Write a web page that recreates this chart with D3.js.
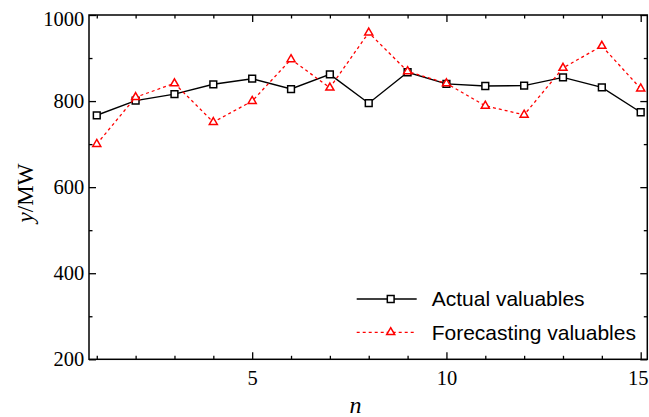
<!DOCTYPE html>
<html><head><meta charset="utf-8">
<script src="https://cdn.jsdelivr.net/npm/d3@7"></script>
<style>body{margin:0;background:#fff}svg{display:block}</style>
</head><body>
<svg id="c" width="649" height="417"></svg>
<script>
const nValues = [1,2,3,4,5,6,7,8,9,10,11,12,13,14,15];
const actualValues = [767,801,816,839,852,828,862,795,867,840,835,836,855,832,774];
const forecastValues = [700,809,841,751,800,897,831,959,869,841,789,768,877,928,829];
const xMajorTicks = [5,10,15];
const yMajorTicks = [200,400,600,800,1000];
const yMinorTicks = [300,500,700,900];
const seriesNames = ["Actual valuables","Forecasting valuables"];

const svg = d3.select("#c");
const x = d3.scaleLinear().domain([0.8,15.17]).range([89,647.3]);
const y = d3.scaleLinear().domain([200,1000]).range([359.3,15]);
const L = x.range()[0], R = x.range()[1], T = y.range()[1], B = y.range()[0];
const serif = "'Liberation Serif','Times New Roman',serif";
const sans = "'Liberation Sans',Arial,Helvetica,sans-serif";

function styleAxis(g){
  g.select(".domain").remove();
  g.selectAll(".tick line").attr("stroke","#000").attr("stroke-width",1.3);
  g.selectAll(".tick text").attr("font-family",serif).attr("font-size","20.5px").attr("fill","#000");
}
const xMinor = nValues.filter(v=>!xMajorTicks.includes(v));
// bottom
const gb = svg.append("g").attr("transform",`translate(0,${B})`)
  .call(d3.axisBottom(x).tickValues(xMajorTicks).tickSize(-7).tickPadding(11).tickFormat(d3.format("d"))).call(styleAxis);
gb.selectAll(".tick text").filter(d=>d===15).attr("dx","-3");
svg.append("g").attr("transform",`translate(0,${B})`)
  .call(d3.axisBottom(x).tickValues(xMinor).tickSize(-3.5).tickFormat("")).call(styleAxis);
// top
svg.append("g").attr("transform",`translate(0,${T})`)
  .call(d3.axisTop(x).tickValues(xMajorTicks).tickSize(-7).tickFormat("")).call(styleAxis);
svg.append("g").attr("transform",`translate(0,${T})`)
  .call(d3.axisTop(x).tickValues(xMinor).tickSize(-3.5).tickFormat("")).call(styleAxis);
// left
const gl = svg.append("g").attr("transform",`translate(${L},0)`)
  .call(d3.axisLeft(y).tickValues(yMajorTicks).tickSize(-7).tickPadding(4.7).tickFormat(d3.format("d"))).call(styleAxis);
gl.selectAll(".tick text").filter(d=>d===1000).attr("dy","0.52em");
svg.append("g").attr("transform",`translate(${L},0)`)
  .call(d3.axisLeft(y).tickValues(yMinorTicks).tickSize(-3.5).tickFormat("")).call(styleAxis);
// right
svg.append("g").attr("transform",`translate(${R},0)`)
  .call(d3.axisRight(y).tickValues(yMajorTicks).tickSize(-7).tickFormat("")).call(styleAxis);
svg.append("g").attr("transform",`translate(${R},0)`)
  .call(d3.axisRight(y).tickValues(yMinorTicks).tickSize(-3.5).tickFormat("")).call(styleAxis);

// frame
svg.append("rect").attr("x",L).attr("y",T).attr("width",R-L).attr("height",B-T)
  .attr("fill","none").attr("stroke","#000").attr("stroke-width",1.5);

const line = d3.line().x((d,i)=>x(nValues[i])).y(d=>y(d));
const sq = d3.symbol().type(d3.symbolSquare).size(46);
const tri = d3.symbol().type(d3.symbolTriangle).size(28);

// actual
svg.append("path").attr("d",line(actualValues)).attr("fill","none").attr("stroke","#000").attr("stroke-width",1.4);
svg.append("g").selectAll("path").data(actualValues).join("path")
  .attr("d",sq).attr("transform",(d,i)=>`translate(${x(nValues[i])},${y(d)})`)
  .attr("fill","#fff").attr("stroke","#000").attr("stroke-width",1.5);
// forecast
svg.append("path").attr("d",line(forecastValues)).attr("fill","none").attr("stroke","#ff0000")
  .attr("stroke-width",1.3).attr("stroke-dasharray","3,3");
svg.append("g").selectAll("path").data(forecastValues).join("path")
  .attr("d",tri).attr("transform",(d,i)=>`translate(${x(nValues[i])},${y(d)})`)
  .attr("fill","#fff").attr("stroke","#ff0000").attr("stroke-width",1.5);

// legend
const lg = svg.append("g");
const ly = [299, 332.3];
lg.append("line").attr("x1",356.7).attr("x2",416.7).attr("y1",ly[0]).attr("y2",ly[0]).attr("stroke","#000").attr("stroke-width",1.4);
lg.append("path").attr("d",sq).attr("transform",`translate(390.7,${ly[0]})`).attr("fill","#fff").attr("stroke","#000").attr("stroke-width",1.5);
lg.append("line").attr("x1",356.7).attr("x2",416.7).attr("y1",ly[1]).attr("y2",ly[1]).attr("stroke","#ff0000").attr("stroke-width",1.3).attr("stroke-dasharray","3,3");
lg.append("path").attr("d",tri).attr("transform",`translate(390.7,${ly[1]})`).attr("fill","#fff").attr("stroke","#ff0000").attr("stroke-width",1.5);
seriesNames.forEach((s,i)=>{
  lg.append("text").attr("x",431.7).attr("y",ly[i]+7.3).attr("font-family",sans).attr("font-size","21px").attr("fill","#000").text(s);
});

// axis titles
svg.append("text").attr("x",355.5).attr("y",413).attr("text-anchor","middle")
  .attr("font-family",serif).attr("font-style","italic").attr("font-size","24px").text("n");
const yt = svg.append("text").attr("transform","translate(33,193) rotate(-90)").attr("text-anchor","middle")
  .attr("font-family",serif).attr("font-size","23px");
yt.append("tspan").attr("font-style","italic").text("y");
yt.append("tspan").text("/MW");
</script>
</body></html>
